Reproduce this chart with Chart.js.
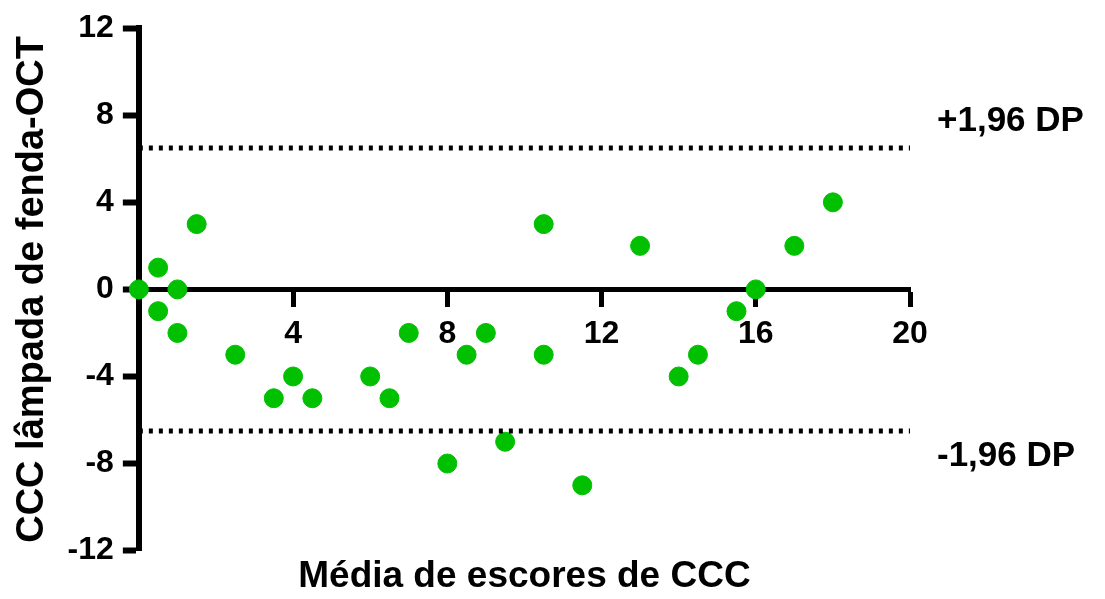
<!DOCTYPE html>
<html>
<head>
<meta charset="utf-8">
<script src="https://cdn.jsdelivr.net/npm/chart.js@4"></script>
<style>
  html, body { margin: 0; padding: 0; background: #fff; }
  #wrap { width: 1105px; height: 599px; }
</style>
</head>
<body>
<div id="wrap"><canvas id="chart"></canvas></div>
<script>
// ==================== DATA ====================
const meanScores = [0, 0.5, 0.5, 1, 1, 1.5, 2.5, 3.5, 4, 4.5, 6, 6.5, 7, 8, 8.5, 9, 9.5,
  10.5, 10.5, 11.5, 13, 14, 14.5, 15.5, 16, 17, 18];
const differences = [0, 1, -1, 0, -2, 3, -3, -5, -4, -5, -4, -5, -2, -8, -3, -2, -7,
  3, -3, -9, 2, -4, -3, -1, 0, 2, 4];
const limitValues = [6.5, -6.5];
const limitLabels = ['+1,96 DP', '-1,96 DP'];
const xRange = [0, 20];
const yRange = [-12, 12];

const FONT = "'Liberation Sans', Arial, sans-serif";
const GREEN = '#00c000';

const points = meanScores.map((x, i) => ({ x: x, y: differences[i] }));

const limitSets = limitValues.map(v => ({
  type: 'line',
  data: [{ x: xRange[0], y: v }, { x: xRange[1], y: v }],
  borderColor: '#000',
  borderWidth: 5,
  borderDash: [4, 6],
  pointRadius: 0,
  fill: false,
  clip: false
}));

// labels next to the limit lines
const limitLabelPlugin = {
  id: 'limitLabels',
  afterDatasetsDraw(chart) {
    const { ctx, chartArea, scales } = chart;
    ctx.save();
    ctx.font = 'bold 35px ' + FONT;
    ctx.fillStyle = '#000';
    ctx.textAlign = 'left';
    ctx.textBaseline = 'middle';
    limitValues.forEach((v, i) => {
      const y = scales.y.getPixelForValue(v);
      const off = v > 0 ? -27 : 25;
      ctx.fillText(limitLabels[i], chartArea.right + 27, y + off);
    });
    ctx.restore();
  }
};

new Chart(document.getElementById('chart'), {
  type: 'scatter',
  data: {
    datasets: [
      ...limitSets,
      {
        data: points,
        backgroundColor: GREEN,
        borderColor: GREEN,
        pointRadius: 9.5,
        pointHoverRadius: 9.5,
        clip: false
      }
    ]
  },
  options: {
    responsive: true,
    maintainAspectRatio: false,
    animation: false,
    layout: { padding: { left: 6, right: 195, top: 27, bottom: 0 } },
    plugins: {
      legend: { display: false },
      tooltip: { enabled: false }
    },
    scales: {
      x: {
        type: 'linear',
        position: { y: 0 },
        min: xRange[0],
        max: xRange[1],
        ticks: {
          stepSize: 4,
          color: '#000',
          padding: 11,
          font: { family: FONT, size: 32, weight: 'bold' },
          callback: v => (v === 0 ? '' : v)
        },
        grid: {
          drawOnChartArea: false,
          drawTicks: true,
          tickLength: 15,
          tickWidth: 5,
          tickColor: '#000'
        },
        border: { display: true, color: '#000', width: 5 }
      },
      x2: {
        type: 'linear',
        position: 'bottom',
        min: xRange[0],
        max: xRange[1],
        ticks: { display: false },
        grid: { display: false, drawTicks: false },
        border: { display: false },
        title: {
          display: true,
          text: 'Média de escores de CCC',
          color: '#000',
          padding: { top: 4, bottom: 0 },
          font: { family: FONT, size: 37, weight: 'bold' }
        }
      },
      y: {
        type: 'linear',
        min: yRange[0],
        max: yRange[1],
        ticks: {
          stepSize: 4,
          color: '#000',
          padding: 9,
          font: { family: FONT, size: 32, weight: 'bold' }
        },
        grid: {
          drawOnChartArea: false,
          drawTicks: true,
          tickLength: 16,
          tickWidth: 6,
          tickColor: '#000'
        },
        border: { display: true, color: '#000', width: 6 },
        title: {
          display: true,
          text: 'CCC lâmpada de fenda-OCT',
          color: '#000',
          padding: { top: 4, bottom: 3 },
          font: { family: FONT, size: 38, weight: 'bold' }
        }
      }
    }
  },
  plugins: [limitLabelPlugin]
});
</script>
</body>
</html>
